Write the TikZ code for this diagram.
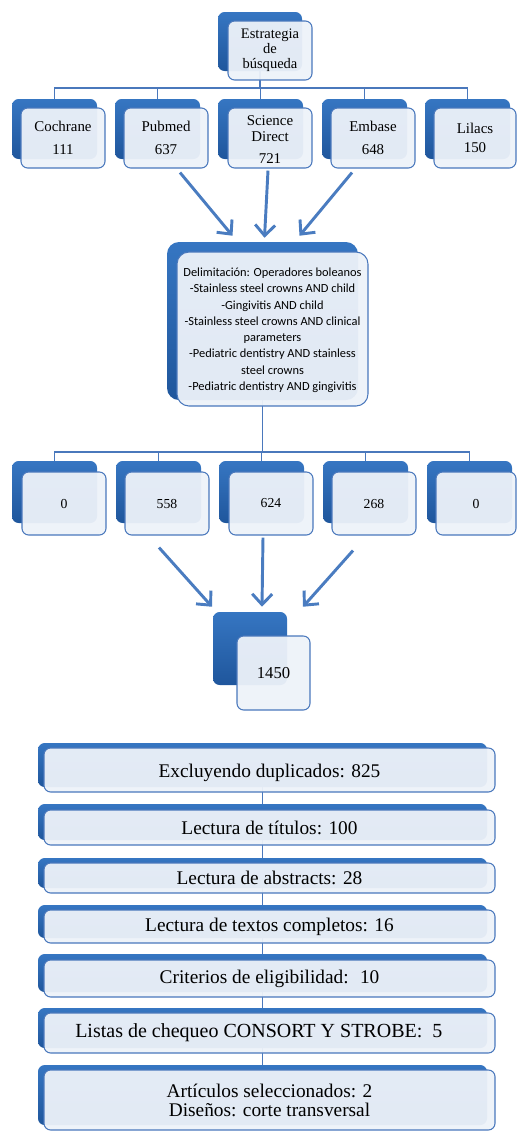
\documentclass[tikz,border=0pt]{standalone}
\usepackage{fontspec}
\setmainfont{Liberation Serif}
\newfontfamily\calibrifont{Carlito}
\usetikzlibrary{arrows.meta,calc,fit,backgrounds}

\definecolor{boxblue}{HTML}{3676C2}
\definecolor{boxdark}{HTML}{1F569C}
\definecolor{edgeblue}{HTML}{4A78BC}
\definecolor{paleblue}{HTML}{EDF2F9}
\definecolor{arrowblue}{HTML}{4A7CC0}

\tikzset{
  backbox/.style={inner sep=0pt, rounded corners=5pt, top color=boxblue, bottom color=boxdark},
  frontbox/.style={inner sep=0pt, rounded corners=5pt, draw=edgeblue, line width=0.8pt,
    fill=paleblue, fill opacity=0.95},
  boxtext/.style={align=center, inner sep=0pt},
  tree/.style={draw=edgeblue, line width=0.8pt},
  flow/.style={draw=arrowblue, line width=2.2pt, -{Straight Barb[length=8pt,width=15pt]}},
  topfont/.style={font=\fontsize{11.2}{17.2}\selectfont},
  numfont/.style={font=\fontsize{10.3}{12}\selectfont},
  stepfont/.style={font=\fontsize{14.5}{14.3}\selectfont},
}

\begin{document}
\begin{tikzpicture}[x=0.75pt, y=-0.75pt]
  \useasboundingbox (0,0) rectangle (517,1133);

  % estrategia
  \node[backbox, fit={(218,12) (302,71)}] (est-b) {};
  \node[frontbox, fit={(228,21) (312,80)}] (est) {};
  \node[boxtext, font=\fontsize{10.9}{11.3}\selectfont] at (est) {Estrategia\\de\\búsqueda};

  % bases de datos
  \node[backbox, fit={(12,99) (97,159)}] (cochrane-b) {};
  \node[frontbox, fit={(21,108) (105,168)}] (cochrane) {};
  \node[boxtext, topfont] at (cochrane) {Cochrane\\111};
  \node[backbox, fit={(115,99) (200,159)}] (pubmed-b) {};
  \node[frontbox, fit={(124,108) (208,168)}] (pubmed) {};
  \node[boxtext, topfont] at (pubmed) {Pubmed\\637};
  \node[backbox, fit={(218,99) (303,159)}] (science-b) {};
  \node[frontbox, fit={(228,108) (312,168)}] (science) {};
  \node[boxtext, font=\fontsize{11.2}{12}\selectfont] at ([yshift=-1pt]science) {Science\\Direct\\[4.5pt]721};
  \node[backbox, fit={(322,99) (407,159)}] (embase-b) {};
  \node[frontbox, fit={(331,108) (415,168)}] (embase) {};
  \node[boxtext, topfont] at (embase) {Embase\\648};
  \node[backbox, fit={(425,99) (510,159)}] (lilacs-b) {};
  \node[frontbox, fit={(434,108) (516,168)}] (lilacs) {};
  \node[boxtext, font=\fontsize{11.2}{14.2}\selectfont] at (lilacs) {Lilacs\\150};

  % delimitacion
  \node[backbox, rounded corners=9pt, fit={(167,242) (358,400)}] (delim-b) {};
  \node[frontbox, rounded corners=9pt, fit={(177,252) (368,406)}] (delim) {};
  \node[boxtext, font=\calibrifont\fontsize{9.3}{12.2}\selectfont] at ([yshift=-1pt]delim)
    {Delimitación: Operadores boleanos\\-Stainless steel crowns AND child\\-Gingivitis AND child\\
     -Stainless steel crowns AND clinical\\parameters\\-Pediatric dentistry AND stainless\\steel crowns\\
     -Pediatric dentistry AND gingivitis};

  % resultados
  \node[backbox, fit={(12,461) (97,523)}] (r1-b) {};
  \node[frontbox, fit={(22,472) (106,535)}] (r1) {};
  \node[boxtext, numfont] at (r1) {0};
  \node[backbox, fit={(116,461) (201,523)}] (r2-b) {};
  \node[frontbox, fit={(125,472) (209,535)}] (r2) {};
  \node[boxtext, numfont] at (r2) {558};
  \node[backbox, fit={(219,461) (304,523)}] (r3-b) {};
  \node[frontbox, fit={(229,472) (313,535)}] (r3) {};
  \node[boxtext, numfont] at (r3) {624};
  \node[backbox, fit={(323,461) (408,523)}] (r4-b) {};
  \node[frontbox, fit={(332,472) (416,535)}] (r4) {};
  \node[boxtext, numfont] at (r4) {268};
  \node[backbox, fit={(427,461) (512,523)}] (r5-b) {};
  \node[frontbox, fit={(436,472) (516,535)}] (r5) {};
  \node[boxtext, numfont] at (r5) {0};

  % total
  \node[backbox, fit={(213,612) (287,685)}] (total-b) {};
  \node[frontbox, fit={(237,636) (310,710)}] (total) {};
  \node[boxtext, font=\fontsize{12.5}{14}\selectfont] at (total) {1450};

  % pasos
  \node[backbox, fit={(38,743) (487,787)}] (s1-b) {};
  \node[frontbox, fit={(44,748) (495,792)}] (s1) {};
  \node[boxtext, stepfont] at ([yshift=-2pt]s1) {Excluyendo duplicados: 825};
  \node[backbox, fit={(38,804) (487,840)}] (s2-b) {};
  \node[frontbox, fit={(44,810) (495,845)}] (s2) {};
  \node[boxtext, stepfont] at (s2) {Lectura de títulos: 100};
  \node[backbox, fit={(38,858) (487,888)}] (s3-b) {};
  \node[frontbox, fit={(44,863) (495,893)}] (s3) {};
  \node[boxtext, stepfont] at (s3) {Lectura de abstracts: 28};
  \node[backbox, fit={(38,905) (487,938)}] (s4-b) {};
  \node[frontbox, fit={(44,910) (495,943)}] (s4) {};
  \node[boxtext, stepfont] at (s4) {Lectura de textos completos: 16};
  \node[backbox, fit={(38,954) (487,992)}] (s5-b) {};
  \node[frontbox, fit={(44,960) (495,997)}] (s5) {};
  \node[boxtext, stepfont] at (s5) {Criterios de eligibilidad: \ 10};
  \node[backbox, fit={(38,1008) (487,1048)}] (s6-b) {};
  \node[frontbox, fit={(44,1013) (495,1053)}] (s6) {};
  \node[boxtext, font=\fontsize{15}{16}\selectfont] at ([xshift=-8pt]s6) {Listas de chequeo CONSORT Y STROBE: \ 5};
  \node[backbox, fit={(38,1065) (487,1125)}] (s7-b) {};
  \node[frontbox, fit={(44,1070) (495,1130)}] (s7) {};
  \node[boxtext, stepfont] at (s7) {Artículos seleccionados: 2\\Diseños: corte transversal};

  \coordinate (bus1) at (262,88);
  \coordinate (bus2) at (262,452);

  \begin{scope}[on background layer]
    \draw[tree] (est-b) -- (est-b |- bus1);
    \draw[tree] (cochrane-b.north) |- (bus1) -| (lilacs-b.north);
    \draw[tree] (pubmed-b.north) -- (pubmed-b.north |- bus1);
    \draw[tree] (science-b.north) -- (science-b.north |- bus1);
    \draw[tree] (embase-b.north) -- (embase-b.north |- bus1);

    \draw[tree] (delim-b) -- (delim-b |- bus2);
    \draw[tree] (r1-b.north) |- (bus2) -| (r5-b.north);
    \draw[tree] (r2-b.north) -- (r2-b.north |- bus2);
    \draw[tree] (r3-b.north) -- (r3-b.north |- bus2);
    \draw[tree] (r4-b.north) -- (r4-b.north |- bus2);

    \draw[tree] (s1-b) -- (s2-b);
    \draw[tree] (s2-b) -- (s3-b);
    \draw[tree] (s3-b) -- (s4-b);
    \draw[tree] (s4-b) -- (s5-b);
    \draw[tree] (s5-b) -- (s6-b);
    \draw[tree] (s6-b) -- (s7-b);
  \end{scope}

  % flechas
  \draw[flow] ($(pubmed.south)+(14,4)$) -- ($(delim-b.north)+(-30,-6)$);
  \draw[flow] ($(science.south)+(-2,2)$) -- ($(delim-b.north)+(2,-4)$);
  \draw[flow] ($(embase.south)+(-21,4)$) -- ($(delim-b.north)+(37,-6)$);

  \draw[flow] ($(r2.south)+(-8,12)$) -- ($(total-b.north)+(-38,-5)$);
  \draw[flow] ($(r3.south)+(-8,2)$) -- ($(total-b.north)+(12,-5)$);
  \draw[flow] ($(r4.south)+(-21,15)$) -- ($(total-b.north)+(53,-5)$);
\end{tikzpicture}
\end{document}
